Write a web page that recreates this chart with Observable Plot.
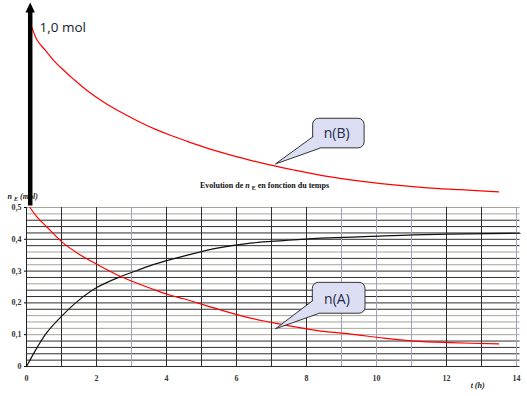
<!DOCTYPE html>
<html><head><meta charset="utf-8">
<script src="https://cdn.jsdelivr.net/npm/d3@7"></script>
<script src="https://cdn.jsdelivr.net/npm/@observablehq/plot@0.6"></script>
<style>body{margin:0;background:#fff;} svg{display:block;}</style>
</head><body><div id="chart"></div>
<script>
// ---- data ----
const tB = [0.16,0.31,0.54,0.78,1.07,1.35,1.73,2.21,2.69,3.16,3.64,4.11,4.59,5.07,5.54,6.02,6.49,6.92,7.64,8.59,9.54,10.49,11.45,12.4,13.49];
const nB = [1.065,1.025,0.994,0.962,0.931,0.903,0.868,0.831,0.800,0.773,0.748,0.727,0.708,0.690,0.674,0.659,0.646,0.635,0.618,0.598,0.583,0.571,0.562,0.556,0.549];
const tA = [0.1,0.31,0.59,1.02,1.49,2.02,2.69,3.16,3.64,4.11,4.49,5.45,6.4,7.35,8.31,9.26,10.21,11.07,12.11,13.49];
const nA = [0.500,0.469,0.438,0.391,0.354,0.321,0.283,0.262,0.242,0.224,0.213,0.181,0.152,0.131,0.113,0.102,0.089,0.080,0.075,0.071];
const tE = [0,0.31,0.59,1.02,1.49,2.02,2.69,3.16,3.64,4.11,4.49,5.45,6.4,7.35,8.31,9.07,9.83,11.07,12.59,14.1];
const nE = [0,0.061,0.108,0.160,0.208,0.249,0.283,0.302,0.321,0.336,0.347,0.372,0.388,0.396,0.403,0.406,0.409,0.414,0.417,0.419];
const xTicks = [0,2,4,6,8,10,12,14];
const yTicks = [0,0.1,0.2,0.3,0.4,0.5];
const hours = [0,1,2,3,4,5,6,7,8,9,10,11,12,13,14];
const gridLevels = d3.range(0,26).map(i => +(i*0.02).toFixed(2));
const titleText = "Evolution de n E en fonction du temps";
const yLabelText = "n E (mol)";
const xLabelText = "t (h)";
const topLabel = "1,0 mol";
const calloutLabels = ["n(B)", "n(A)"];

// ---- annotation geometry (data units) ----
const callouts = [
  {label: calloutLabels[0], x1: 8.19, x2: 9.66, y1: 0.686, y2: 0.779, tx: 8.86, ty: 0.733,
   tip: [7.114, 0.637], b1: [8.19, 0.723], b2: [8.37, 0.686]},
  {label: calloutLabels[1], x1: 8.18, x2: 9.686, y1: 0.166, y2: 0.263, tx: 8.87, ty: 0.212,
   tip: [7.114, 0.1186], b1: [8.18, 0.2075], b2: [8.33, 0.166]}
];
const lightH = new Set([0.5, 0.48, 0.36, 0.32, 0.26, 0.16, 0.14, 0.12, 0.1]);
const lightV = new Set([3, 9, 10, 11, 14]);

const tbl = (ts, vs) => ts.map((t, i) => ({t, v: vs[i]}));
const fmtY = d => d === 0 ? "0" : d.toFixed(1).replace(".", ",");

const marks = [
  Plot.ruleY(gridLevels, {x1: 0, x2: 14.1, stroke: d => lightH.has(d) ? "#a4a49a" : "#2e2e2e", strokeWidth: 1}),
  Plot.ruleX(hours, {y1: 0, y2: 0.5, stroke: d => lightV.has(d) ? "#a0a2bc" : "#2e2e2e", strokeWidth: 1}),
  Plot.ruleX([0], {y1: 0, y2: 0.5, stroke: "#222"}),
  Plot.axisX(xTicks, {tickSize: 0, tickPadding: 9, tickFormat: d => String(d), label: null, fill: "#333"}),
  Plot.axisY(yTicks, {tickSize: 2, tickPadding: 3, tickFormat: fmtY, label: null, fill: "#333"}),
  Plot.line(tbl(tE, nE), {x: "t", y: "v", stroke: "#111", strokeWidth: 1.2, curve: "catmull-rom"}),
  Plot.line(tbl(tA, nA), {x: "t", y: "v", stroke: "#ff0000", strokeWidth: 1.2, curve: "catmull-rom"}),
  Plot.line(tbl(tB, nB), {x: "t", y: "v", stroke: "#ff0000", strokeWidth: 1.2, curve: "catmull-rom"}),
  Plot.text([titleText], {x: 6.8, y: 0.569, fontSize: 8, fontWeight: "bold", fill: "#111"}),
  Plot.text([yLabelText], {x: -0.54, y: 0.535, textAnchor: "start", fontSize: 8, fontWeight: "bold", fontStyle: "italic", fill: "#222"}),
  Plot.text([xLabelText], {x: 12.69, y: -0.06, textAnchor: "start", fontSize: 8, fontWeight: "bold", fontStyle: "italic", fill: "#222"}),
  // vertical arrow
  Plot.link([{}], {x1: 0.106, y1: 0.506, x2: 0.106, y2: 1.12, stroke: "#000", strokeWidth: 4.5}),
  Plot.line([[-0.03, 1.113], [0.24, 1.113], [0.106, 1.1445]], {x: d => d[0], y: d => d[1], fill: "#000", stroke: "none"}),
  Plot.text([topLabel], {x: 0.37, y: 1.065, textAnchor: "start", fontSize: 13.5, fontFamily: "Open Sans", fontWeight: "normal", fill: "#1a1a2a"}),
  // callouts
  Plot.rect(callouts, {x1: "x1", x2: "x2", y1: "y1", y2: "y2", rx: 6, fill: "#dcdff4", stroke: "#333", strokeWidth: 1}),
  ...callouts.map(c => Plot.line([c.tip, c.b1, [c.b1[0] + 0.06, c.b1[1]], [c.b2[0] + 0.02, c.b2[1] + 0.006], c.b2],
      {x: d => d[0], y: d => d[1], fill: "#dcdff4", stroke: "none"})),
  ...callouts.map(c => Plot.line([c.b1, c.tip, c.b2], {x: d => d[0], y: d => d[1], stroke: "#333", strokeWidth: 1})),
  Plot.text(callouts, {x: "tx", y: "ty", text: "label", fontSize: 14, fontFamily: "Open Sans", fontWeight: "normal", fill: "#1f2b4a"})
];

const chart = Plot.plot({
  width: 527, height: 396,
  marginLeft: 26, marginRight: 7.5, marginTop: 0, marginBottom: 30,
  x: {domain: [0, 14.1]},
  y: {domain: [0, 366/318]},
  color: {type: "identity"},
  style: {fontFamily: "'Liberation Serif', serif", fontSize: "8px", fontWeight: "bold", background: "#fff", overflow: "visible"},
  marks
});
document.getElementById("chart").append(chart);

// rich text: italic n with subscript E
d3.select(chart).selectAll("text").each(function() {
  const el = d3.select(this);
  const txt = this.textContent;
  if (txt === titleText || txt === yLabelText) {
    const rest = txt === titleText ? " en fonction du temps" : " (mol)";
    const lead = txt === titleText ? "Evolution de " : "";
    const tsp = el.select("tspan").empty() ? el : el.select("tspan");
    tsp.text(null);
    if (lead) tsp.append("tspan").text(lead);
    tsp.append("tspan").attr("font-style", "italic").text("n ");
    tsp.append("tspan").attr("font-size", "6px").attr("dy", "2").text("E");
    const r = tsp.append("tspan").attr("dy", "-2").text(rest);
    if (txt === yLabelText) r.attr("font-style", "italic");
  }
});
</script>
</body></html>
